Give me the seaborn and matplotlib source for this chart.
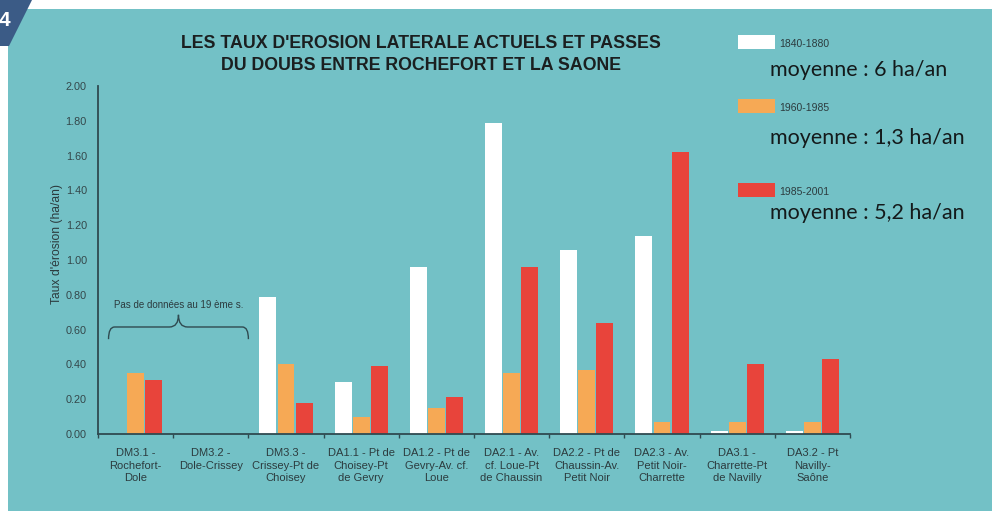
import numpy as np
import pandas as pd
import matplotlib
matplotlib.use("Agg")
import matplotlib.pyplot as plt
from matplotlib.patches import Polygon, Rectangle, PathPatch
from matplotlib.path import Path
import seaborn as sns

# --- data -------------------------------------------------------------------
sections = [
    "DM3.1 -\nRochefort-\nDole",
    "DM3.2 -\nDole-Crissey",
    "DM3.3 -\nCrissey-Pt de\nChoisey",
    "DA1.1 - Pt de\nChoisey-Pt\nde Gevry",
    "DA1.2 - Pt de\nGevry-Av. cf.\nLoue",
    "DA2.1 - Av.\ncf. Loue-Pt\nde Chaussin",
    "DA2.2 - Pt de\nChaussin-Av.\nPetit Noir",
    "DA2.3 - Av.\nPetit Noir-\nCharrette",
    "DA3.1 -\nCharrette-Pt\nde Navilly",
    "DA3.2 - Pt\nNavilly-\nSaône",
]
periods = ["1840-1880", "1960-1985", "1985-2001"]
rate_1840_1880 = [np.nan, np.nan, 0.79, 0.30, 0.96, 1.79, 1.06, 1.14, 0.02, 0.02]
rate_1960_1985 = [0.35, np.nan, 0.40, 0.10, 0.15, 0.35, 0.37, 0.07, 0.07, 0.07]
rate_1985_2001 = [0.31, np.nan, 0.18, 0.39, 0.21, 0.96, 0.64, 1.62, 0.40, 0.43]
period_means = ["moyenne : 6 ha/an", "moyenne : 1,3 ha/an", "moyenne : 5,2 ha/an"]
y_ticks = [0.0, 0.2, 0.4, 0.6, 0.8, 1.0, 1.2, 1.4, 1.6, 1.8, 2.0]

df = pd.DataFrame({
    "section": sections * 3,
    "period": np.repeat(periods, len(sections)),
    "rate": rate_1840_1880 + rate_1960_1985 + rate_1985_2001,
})

colors = {"1840-1880": "#ffffff", "1960-1985": "#f6a955", "1985-2001": "#e8443b"}
teal = "#73c1c6"
ink = "#2c3b3e"

# --- figure -----------------------------------------------------------------
sns.set_theme(style="ticks")
plt.rcParams["font.family"] = ["Liberation Sans", "DejaVu Sans"]

W, H = 992, 511
fig = plt.figure(figsize=(W / 100, H / 100), dpi=100, facecolor="white")

def fx(px):
    return px / W

def fy(py):
    return 1 - py / H

# teal page
fig.patches.append(Rectangle((fx(8), 0), 1 - fx(8), fy(9), transform=fig.transFigure,
                             facecolor=teal, edgecolor="none", zorder=-10))
# page badge
fig.patches.append(Polygon([(fx(0), fy(0)), (fx(32), fy(0)), (fx(9), fy(46)), (fx(0), fy(46))],
                           closed=True, transform=fig.transFigure,
                           facecolor="#3b5b86", edgecolor="none", zorder=-9))
fig.text(fx(4), fy(21), "4", color="white", fontsize=15, fontweight="bold",
         ha="center", va="center", zorder=-8)

ax = fig.add_axes([fx(98), fy(434), fx(850) - fx(98), fy(86) - fy(434)])
ax.set_facecolor("none")
ax.set_zorder(5)

sns.barplot(data=df, x="section", y="rate", hue="period", order=sections,
            hue_order=periods, palette=colors, width=0.72, gap=0.06,
            saturation=1, edgecolor="none", legend=False, ax=ax)

ax.set_xlim(-0.5, len(sections) - 0.5)
ax.set_ylim(0, 2.0)
ax.set_yticks(y_ticks)
ax.set_yticklabels([f"{v:.2f}" for v in y_ticks])
ax.tick_params(axis="y", length=0, labelsize=7.8, labelcolor="#34474a", pad=8)
ax.tick_params(axis="x", which="major", length=0, labelsize=8, labelcolor=ink, pad=10)
ax.set_xticks(np.arange(-0.5, len(sections), 1.0), minor=True)
ax.tick_params(axis="x", which="minor", length=3, width=1, color="#2f4a50", direction="out")
ax.set_xlabel("")
ax.set_ylabel("Taux d'érosion (ha/an)", fontsize=8.7, color=ink)
ax.yaxis.set_label_coords(-0.046, 0.545)
for lab in ax.get_xticklabels():
    lab.set_linespacing(1.35)

sns.despine(ax=ax)
for s in ("left", "bottom"):
    ax.spines[s].set_color("#2f4a50")
    ax.spines[s].set_linewidth(1.3)

# brace over the sections without 19th-century data
x0, x1, xm = -0.36, 1.50, 0.57
yb, yh, yt = 0.545, 0.615, 0.685
verts = [(x0, yb),
         (x0, yh), (x0 + 0.08, yh),
         (xm - 0.12, yh),
         (xm, yh), (xm, yt),
         (xm, yh), (xm + 0.12, yh),
         (x1 - 0.08, yh),
         (x1, yh), (x1, yb)]
codes = [Path.MOVETO,
         Path.CURVE3, Path.CURVE3,
         Path.LINETO,
         Path.CURVE3, Path.CURVE3,
         Path.CURVE3, Path.CURVE3,
         Path.LINETO,
         Path.CURVE3, Path.CURVE3]
ax.add_patch(PathPatch(Path(verts, codes), facecolor="none", edgecolor="#2f4a50", lw=1.0))
ax.text(xm, 0.74, "Pas de données au 19 ème s.", fontsize=7, color=ink,
        ha="center", va="center")

# titles
fig.text(fx(421), fy(44), "LES TAUX D'EROSION LATERALE ACTUELS ET PASSES",
         fontsize=12.8, fontweight="bold", color="#1b1f20", ha="center", va="center")
fig.text(fx(421), fy(65), "DU DOUBS ENTRE ROCHEFORT ET LA SAONE",
         fontsize=12.8, fontweight="bold", color="#1b1f20", ha="center", va="center")

# legend with period averages
patch_y = [35, 99, 183]
mean_y = [70, 138, 213]
for per, py, my, txt in zip(periods, patch_y, mean_y, period_means):
    fig.patches.append(Rectangle((fx(738), fy(py + 14)), fx(37), fy(py) - fy(py + 14),
                                 transform=fig.transFigure, facecolor=colors[per],
                                 edgecolor="none", zorder=3))
    fig.text(fx(779), fy(py + 9), per, fontsize=7.5, color=ink, ha="left", va="center")
    fig.text(fx(770), fy(my), txt, fontsize=15.5, color="#141a1b", ha="left", va="center",
             family=["Lato", "DejaVu Sans"])

fig.savefig("out.png", dpi=100, facecolor="white")
